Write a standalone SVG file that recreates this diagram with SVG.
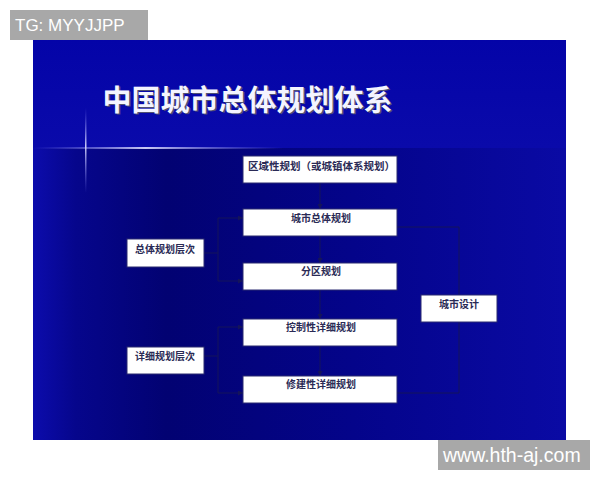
<svg xmlns="http://www.w3.org/2000/svg" width="600" height="480" viewBox="0 0 600 480">
<defs>
<linearGradient id="low" x1="0" y1="0" x2="1" y2="0">
<stop offset="0" stop-color="#0c0cac"/>
<stop offset="0.08" stop-color="#06068c"/>
<stop offset="0.25" stop-color="#020272"/>
<stop offset="0.6" stop-color="#04048a"/>
<stop offset="1" stop-color="#0a0aa4"/>
</linearGradient>
<linearGradient id="top" x1="0" y1="0" x2="0" y2="1">
<stop offset="0" stop-color="#0404a8"/>
<stop offset="1" stop-color="#0a0aaa"/>
</linearGradient>
<linearGradient id="hflare" x1="0" y1="0" x2="1" y2="0">
<stop offset="0" stop-color="#8080ff" stop-opacity="0"/>
<stop offset="0.45" stop-color="#e0e0ff" stop-opacity="0.9"/>
<stop offset="1" stop-color="#8080ff" stop-opacity="0"/>
</linearGradient>
<linearGradient id="vflare" x1="0" y1="0" x2="0" y2="1">
<stop offset="0" stop-color="#8080ff" stop-opacity="0"/>
<stop offset="0.45" stop-color="#e0e0ff" stop-opacity="0.9"/>
<stop offset="1" stop-color="#8080ff" stop-opacity="0"/>
</linearGradient>
<marker id="arr" viewBox="0 0 6 6" refX="6" refY="3" markerWidth="5" markerHeight="5" orient="auto">
<path d="M0,0 L6,3 L0,6 z" fill="#14145a"/>
</marker>
<style>
.box{fill:#ffffff;stroke:#2a2a70;stroke-width:1}
.t{font-family:"Noto Sans CJK SC","Noto Sans",sans-serif;font-size:10px;font-weight:bold;fill:#2a2a55;text-anchor:middle}
.c{fill:none;stroke:#14145a;stroke-width:1}
.wm{font-family:"Liberation Sans",Arial,sans-serif;fill:#ffffff}
</style>
</defs>
<rect width="600" height="480" fill="#ffffff"/>
<rect x="33" y="40" width="533" height="400" fill="url(#low)"/>
<rect x="33" y="40" width="533" height="108" fill="url(#top)"/>
<rect x="33" y="147" width="250" height="2" fill="url(#hflare)"/>
<rect x="85" y="108" width="1.5" height="85" fill="url(#vflare)"/>
<text x="104" y="112" font-family="'Noto Sans CJK SC',sans-serif" font-size="29" font-weight="bold" fill="#505070">中国城市总体规划体系</text>
<text x="102.5" y="110.5" font-family="'Noto Sans CJK SC',sans-serif" font-size="29" font-weight="bold" fill="#f4f4ff">中国城市总体规划体系</text>

<g id="connectors">
<line class="c" x1="320" y1="183" x2="320" y2="209" marker-end="url(#arr)"/>
<line class="c" x1="320" y1="236" x2="320" y2="263" marker-end="url(#arr)"/>
<line class="c" x1="320" y1="290" x2="320" y2="319" marker-end="url(#arr)"/>
<line class="c" x1="320" y1="346" x2="320" y2="376" marker-end="url(#arr)"/>
<line class="c" x1="204" y1="253" x2="218" y2="253"/>
<line class="c" x1="218" y1="218" x2="218" y2="281"/>
<line class="c" x1="218" y1="218" x2="243" y2="218" marker-end="url(#arr)"/>
<line class="c" x1="218" y1="281" x2="243" y2="281" marker-end="url(#arr)"/>
<line class="c" x1="204" y1="356" x2="218" y2="356"/>
<line class="c" x1="218" y1="327" x2="218" y2="393"/>
<line class="c" x1="218" y1="327" x2="243" y2="327" marker-end="url(#arr)"/>
<line class="c" x1="218" y1="393" x2="243" y2="393" marker-end="url(#arr)"/>
<path class="c" d="M397,227 H459 V295"/>
<path class="c" d="M459,322 V393 H397"/>
</g>

<g id="n1"><rect class="box" x="243" y="156" width="154" height="27"/><text x="248" y="170" class="t" style="text-anchor:start;font-size:10.5px">区域性规划（或城镇体系规划）</text></g>
<g id="n2"><rect class="box" x="243" y="209" width="154" height="27"/><text x="321" y="222" class="t">城市总体规划</text></g>
<g id="n3"><rect class="box" x="243" y="263" width="154" height="27"/><text x="321" y="275" class="t">分区规划</text></g>
<g id="n4"><rect class="box" x="243" y="319" width="154" height="27"/><text x="321" y="331" class="t">控制性详细规划</text></g>
<g id="n5"><rect class="box" x="243" y="376" width="154" height="27"/><text x="321" y="388" class="t">修建性详细规划</text></g>
<g id="n6"><rect class="box" x="127" y="239" width="77" height="28"/><text x="165" y="253" class="t">总体规划层次</text></g>
<g id="n7"><rect class="box" x="127" y="347" width="77" height="27"/><text x="165" y="360" class="t">详细规划层次</text></g>
<g id="n8"><rect class="box" x="421" y="295" width="76" height="27"/><text x="459" y="308" class="t">城市设计</text></g>

<rect x="10" y="10" width="138" height="30" fill="#a8a8a8"/>
<text x="15" y="31" class="wm" font-size="17">TG: MYYJJPP</text>
<rect x="438" y="440" width="152" height="30" fill="#a8a8a8"/>
<text x="443" y="462" class="wm" font-size="19.5">www.hth-aj.com</text>
</svg>
